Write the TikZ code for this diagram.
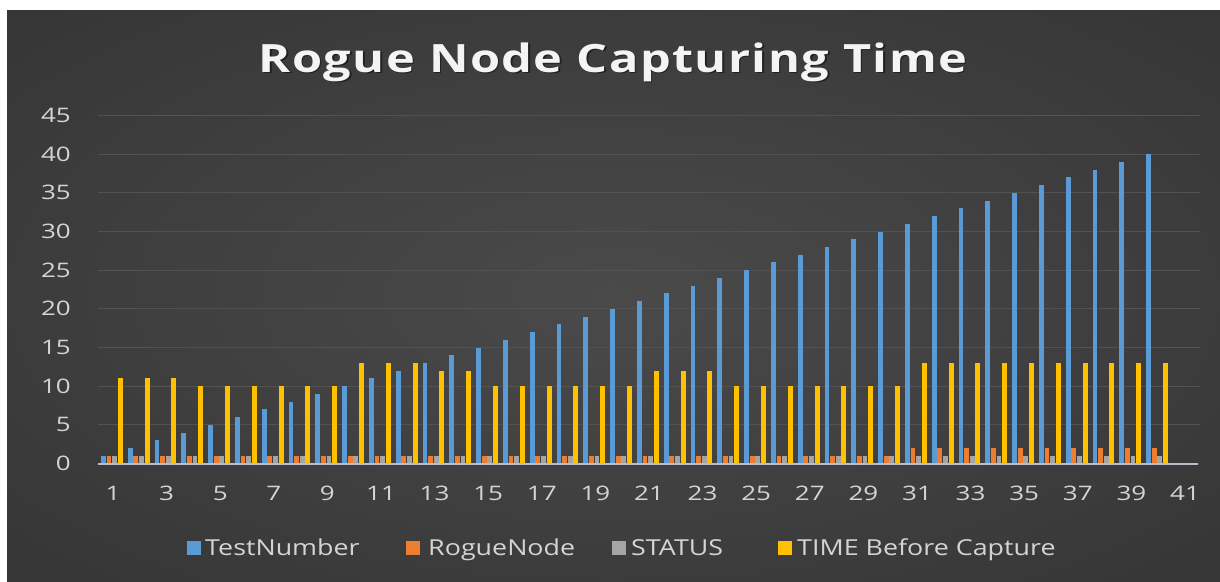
\documentclass[tikz,border=0pt]{standalone}
\usepackage{fontspec}
\setmainfont{Open Sans}
\newfontfamily\chartfont[FakeStretch=1.3]{Open Sans}
\newfontfamily\legfont[FakeStretch=1.22]{Open Sans}
\newfontfamily\titlefont[FakeStretch=1.25,LetterSpace=3.6]{Open Sans}
\definecolor{bgin}{HTML}{4A4A4A}
\definecolor{bgmid}{HTML}{2D2D2D}
\definecolor{bgout}{HTML}{262626}
\definecolor{gridc}{HTML}{525252}
\definecolor{axisc}{HTML}{BDBBC8}
\definecolor{labelc}{HTML}{D4D4D4}
\definecolor{titlec}{HTML}{F4F4F4}
\definecolor{cblue}{HTML}{5B9BD5}
\definecolor{corange}{HTML}{ED7D31}
\definecolor{cgray}{HTML}{A5A5A5}
\definecolor{cyellow}{HTML}{FFC000}
\pgfdeclareradialshading{chartbg}{\pgfpoint{0bp}{0bp}}{color(0bp)=(bgin); color(50bp)=(bgmid); color(71bp)=(bgout)}
\begin{document}
\begin{tikzpicture}[x=1pt,y=-1pt,
  lbl/.style={text=labelc,font=\chartfont\fontsize{20}{24}\selectfont,inner sep=0pt},
  legtext/.style={text=labelc,font=\legfont\fontsize{22}{26}\selectfont,inner sep=0pt,anchor=base west},
  barfill/.style={fill=#1,draw=none}]
\useasboundingbox (0,0) rectangle (1220,581);
\fill[white] (0,0) rectangle (1220,581);
\shade[shading=chartbg] (7,10) rectangle (1220,581);
% title
\node[text=black,opacity=0.45,font=\titlefont\bfseries\fontsize{39}{44}\selectfont,anchor=base,inner sep=0pt] (titleshadow) at (614.5,73.5) {Rogue Node Capturing Time};
\node[text=titlec,font=\titlefont\bfseries\fontsize{39}{44}\selectfont,anchor=base,inner sep=0pt] (title) at (613,72) {Rogue Node Capturing Time};
% gridlines
\foreach \v in {5,10,...,45}
  \draw[gridc,line width=1.2pt] (98,{463.5-\v*7.733}) -- (1200,{463.5-\v*7.733});
% y labels
\foreach \v in {0,5,...,45}
  \node[lbl,anchor=east] (y\v) at (71,{463.5-\v*7.733}) {\v};
% bars
\foreach \t [count=\k] in {11,11,11,10,10,10,10,10,10,13,13,13,12,12,10,10,10,10,10,10,12,12,12,10,10,10,10,10,10,10,13,13,13,13,13,13,13,13,13,13} {
  \pgfmathsetmacro\cx{113+(\k-1)*26.8}
  \pgfmathsetmacro\rv{\k>30 ? 2 : 1}
  \fill[barfill=cblue] ({\cx-12},463.5) rectangle ({\cx-7.2},{463.5-\k*7.733});
  \fill[barfill=corange] ({\cx-6.4},463.5) rectangle ({\cx-1.6},{463.5-\rv*7.733});
  \fill[barfill=cgray] ({\cx-0.8},463.5) rectangle ({\cx+4},{463.5-7.733});
  \fill[barfill=cyellow] ({\cx+4.8},463.5) rectangle ({\cx+9.8},{463.5-\t*7.733});
}
% axis
\draw[axisc,line width=1.6pt] (98,464) -- (1198,464);
% x labels
\foreach \k in {1,3,...,41}
  \node[lbl] (x\k) at ({113+(\k-1)*26.8},493) {\k};
% legend
\fill[cblue] (187,541) rectangle (201,555);
\node[legtext] (leg1) at (205,555) {TestNumber};
\fill[corange] (406,541) rectangle (420,555);
\node[legtext] (leg2) at (428,555) {RogueNode};
\fill[cgray] (612,541) rectangle (626,555);
\node[legtext] (leg3) at (631,555) {STATUS};
\fill[cyellow] (778,541) rectangle (792,555);
\node[legtext] (leg4) at (797,555) {TIME Before Capture};
\end{tikzpicture}
\end{document}
